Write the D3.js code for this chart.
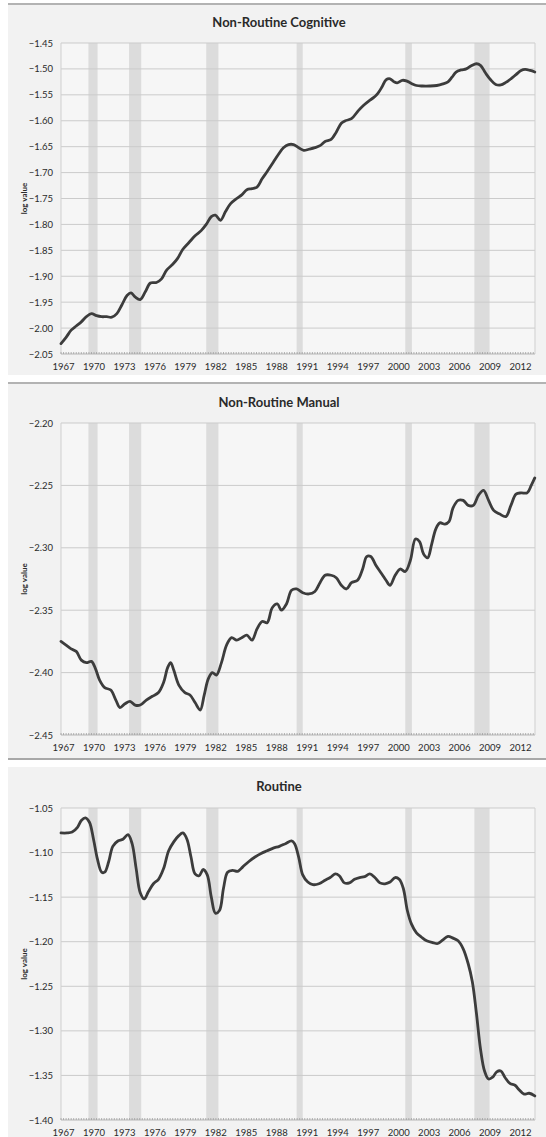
<!DOCTYPE html>
<html>
<head>
<meta charset="utf-8">
<script src="https://cdn.jsdelivr.net/npm/d3@7"></script>
<style>
  html, body { margin: 0; padding: 0; background: #ffffff; }
  svg { display: block; }
  text { font-family: Lato, "Open Sans", "Liberation Sans", sans-serif; fill: #2a2a2a; }
</style>
</head>
<body>
<svg id="chart" width="546" height="1137"></svg>
<script>
// Year labels along each x axis
const yearLabels = [1967, 1970, 1973, 1976, 1979, 1982, 1985, 1988, 1991, 1994, 1997, 2000, 2003, 2006, 2009, 2012];

// Shaded recession periods [start, end] in decimal years
const recessions = [
  [1969.7, 1970.6], [1973.7, 1974.9], [1981.3, 1982.5],
  [1990.2, 1990.8], [2000.9, 2001.55], [2007.7, 2009.2]
];

// y tick labels for each panel
const cognitiveTicks = [-1.45, -1.50, -1.55, -1.60, -1.65, -1.70, -1.75, -1.80, -1.85, -1.90, -1.95, -2.00, -2.05];
const manualTicks = [-2.20, -2.25, -2.30, -2.35, -2.40, -2.45];
const routineTicks = [-1.05, -1.10, -1.15, -1.20, -1.25, -1.30, -1.35, -1.40];

// Non-Routine Cognitive: [year, log value]
const cognitiveSeries = [
  [1967.0,-2.030],[1967.5,-2.018],[1968.0,-2.004],[1968.5,-1.996],[1969.0,-1.988],[1969.5,-1.978],
  [1970.0,-1.972],[1970.5,-1.976],[1971.0,-1.978],[1971.5,-1.978],[1972.0,-1.979],[1972.5,-1.972],
  [1973.0,-1.955],[1973.5,-1.937],[1973.9,-1.932],[1974.3,-1.940],[1974.8,-1.945],[1975.3,-1.930],
  [1975.8,-1.913],[1976.4,-1.912],[1976.9,-1.905],[1977.4,-1.888],[1978.0,-1.877],[1978.5,-1.865],
  [1979.0,-1.848],[1979.6,-1.835],[1980.2,-1.822],[1980.8,-1.812],[1981.3,-1.800],[1981.8,-1.785],
  [1982.2,-1.782],[1982.7,-1.792],[1983.2,-1.775],[1983.7,-1.760],[1984.3,-1.750],[1984.8,-1.743],
  [1985.3,-1.733],[1985.8,-1.731],[1986.3,-1.728],[1986.8,-1.712],[1987.3,-1.698],[1987.9,-1.680],
  [1988.4,-1.665],[1988.9,-1.652],[1989.4,-1.646],[1989.9,-1.646],[1990.4,-1.652],[1990.9,-1.657],
  [1991.4,-1.655],[1992.0,-1.652],[1992.5,-1.648],[1993.0,-1.640],[1993.6,-1.636],[1994.1,-1.622],
  [1994.6,-1.605],[1995.0,-1.600],[1995.6,-1.596],[1996.3,-1.580],[1996.8,-1.570],[1997.3,-1.562],
  [1997.8,-1.555],[1998.2,-1.547],[1998.6,-1.535],[1999.0,-1.521],[1999.4,-1.519],[1999.8,-1.525],
  [2000.1,-1.527],[2000.6,-1.522],[2001.0,-1.523],[2001.5,-1.528],[2002.0,-1.532],[2002.6,-1.533],
  [2003.3,-1.533],[2004.0,-1.532],[2004.6,-1.529],[2005.1,-1.525],[2005.5,-1.516],[2005.9,-1.506],
  [2006.4,-1.502],[2006.9,-1.500],[2007.4,-1.494],[2007.9,-1.490],[2008.3,-1.493],[2008.8,-1.508],
  [2009.3,-1.521],[2009.8,-1.530],[2010.3,-1.531],[2010.8,-1.526],[2011.3,-1.519],[2011.8,-1.511],
  [2012.3,-1.503],[2012.7,-1.501],[2013.2,-1.503],[2013.65,-1.506]
];

// Non-Routine Manual: [year, log value]
const manualSeries = [
  [1967.0,-2.375],[1967.5,-2.378],[1968.0,-2.381],[1968.5,-2.383],[1969.0,-2.390],[1969.5,-2.392],
  [1970.0,-2.391],[1970.4,-2.397],[1970.8,-2.406],[1971.3,-2.412],[1971.9,-2.414],[1972.4,-2.422],
  [1972.8,-2.428],[1973.3,-2.425],[1973.8,-2.423],[1974.3,-2.426],[1974.8,-2.426],[1975.4,-2.422],
  [1976.0,-2.419],[1976.6,-2.416],[1977.1,-2.408],[1977.5,-2.396],[1977.8,-2.392],[1978.1,-2.398],
  [1978.6,-2.410],[1979.2,-2.416],[1979.7,-2.418],[1980.2,-2.424],[1980.7,-2.430],[1981.1,-2.418],
  [1981.5,-2.405],[1981.9,-2.400],[1982.3,-2.402],[1982.8,-2.392],[1983.3,-2.378],[1983.8,-2.372],
  [1984.3,-2.374],[1984.8,-2.372],[1985.3,-2.370],[1985.8,-2.374],[1986.3,-2.365],[1986.8,-2.359],
  [1987.3,-2.360],[1987.8,-2.348],[1988.3,-2.345],[1988.7,-2.350],[1989.2,-2.345],[1989.7,-2.334],
  [1990.2,-2.333],[1990.8,-2.336],[1991.4,-2.337],[1992.0,-2.335],[1992.5,-2.328],[1993.0,-2.322],
  [1993.6,-2.322],[1994.1,-2.324],[1994.6,-2.330],[1995.1,-2.333],[1995.6,-2.328],[1996.2,-2.326],
  [1996.7,-2.317],[1997.1,-2.307],[1997.5,-2.307],[1998.0,-2.314],[1998.5,-2.320],[1999.0,-2.326],
  [1999.4,-2.330],[1999.9,-2.322],[2000.4,-2.317],[2000.9,-2.319],[2001.4,-2.310],[2001.9,-2.293],
  [2002.3,-2.295],[2002.7,-2.305],[2003.1,-2.308],[2003.5,-2.297],[2003.9,-2.285],[2004.3,-2.280],
  [2004.8,-2.281],[2005.2,-2.279],[2005.6,-2.268],[2006.1,-2.262],[2006.6,-2.262],[2007.1,-2.266],
  [2007.6,-2.266],[2008.1,-2.258],[2008.6,-2.254],[2009.1,-2.262],[2009.6,-2.270],[2010.2,-2.273],
  [2010.8,-2.275],[2011.3,-2.266],[2011.8,-2.257],[2012.3,-2.256],[2012.9,-2.256],[2013.3,-2.250],
  [2013.65,-2.244]
];

// Routine: [year, log value]
const routineSeries = [
  [1967.0,-1.078],[1967.6,-1.078],[1968.1,-1.077],[1968.6,-1.072],[1969.0,-1.064],[1969.4,-1.061],
  [1969.8,-1.066],[1970.2,-1.085],[1970.6,-1.108],[1971.0,-1.122],[1971.3,-1.122],[1971.7,-1.110],
  [1972.1,-1.093],[1972.6,-1.087],[1973.1,-1.085],[1973.6,-1.080],[1974.0,-1.090],[1974.4,-1.118],
  [1974.8,-1.145],[1975.2,-1.152],[1975.6,-1.144],[1976.1,-1.135],[1976.6,-1.130],[1977.1,-1.118],
  [1977.6,-1.098],[1978.1,-1.088],[1978.6,-1.081],[1979.0,-1.078],[1979.4,-1.085],[1979.8,-1.105],
  [1980.2,-1.124],[1980.6,-1.126],[1981.0,-1.119],[1981.4,-1.125],[1981.8,-1.150],[1982.2,-1.168],
  [1982.6,-1.165],[1983.0,-1.140],[1983.4,-1.122],[1983.9,-1.120],[1984.4,-1.121],[1984.9,-1.116],
  [1985.5,-1.110],[1986.1,-1.105],[1986.7,-1.101],[1987.3,-1.098],[1987.9,-1.095],[1988.5,-1.093],
  [1989.1,-1.090],[1989.7,-1.087],[1990.0,-1.090],[1990.4,-1.105],[1990.8,-1.125],[1991.3,-1.133],
  [1991.8,-1.136],[1992.4,-1.135],[1993.0,-1.131],[1993.5,-1.128],[1994.0,-1.124],[1994.4,-1.126],
  [1994.9,-1.134],[1995.4,-1.134],[1995.9,-1.130],[1996.4,-1.128],[1996.9,-1.127],[1997.4,-1.124],
  [1997.9,-1.128],[1998.4,-1.134],[1998.9,-1.135],[1999.4,-1.133],[1999.9,-1.128],[2000.3,-1.130],
  [2000.7,-1.140],[2001.1,-1.165],[2001.5,-1.180],[2002.0,-1.190],[2002.5,-1.195],[2003.0,-1.199],
  [2003.6,-1.201],[2004.1,-1.202],[2004.6,-1.198],[2005.1,-1.194],[2005.6,-1.196],[2006.1,-1.199],
  [2006.6,-1.208],[2007.1,-1.225],[2007.5,-1.245],[2007.9,-1.280],[2008.3,-1.320],[2008.7,-1.345],
  [2009.1,-1.354],[2009.5,-1.352],[2009.9,-1.346],[2010.3,-1.345],[2010.7,-1.352],[2011.2,-1.359],
  [2011.7,-1.361],[2012.1,-1.366],[2012.6,-1.371],[2013.1,-1.370],[2013.65,-1.373]
];

// Panel layout
const panels = [
  { title: "Non-Routine Cognitive", series: cognitiveSeries, ticks: cognitiveTicks,
    bgTop: 5, bgBottom: 375, titleY: 24, plotTop: 43, plotBottom: 354, lineTop: 4 },
  { title: "Non-Routine Manual", series: manualSeries, ticks: manualTicks,
    bgTop: 384, bgBottom: 758, titleY: 404, plotTop: 423, plotBottom: 735, lineTop: 383, shadowBottom: 759 },
  { title: "Routine", series: routineSeries, ticks: routineTicks,
    bgTop: 767, bgBottom: 1137, titleY: 788, plotTop: 808, plotBottom: 1120 }
];

const svg = d3.select("#chart");
const plotLeft = 61, plotRight = 535;
const x = d3.scaleLinear().domain([1967, 2013.67]).range([plotLeft, plotRight]);

panels.forEach(p => {
  const g = svg.append("g");
  const y = d3.scaleLinear()
    .domain([d3.min(p.ticks), d3.max(p.ticks)])
    .range([p.plotBottom, p.plotTop]);

  // panel background
  g.append("rect").attr("x", 8).attr("y", p.bgTop)
    .attr("width", 546 - 8).attr("height", p.bgBottom - p.bgTop)
    .attr("fill", "#f2f2f2");
  if (p.lineTop !== undefined) {
    g.append("line").attr("x1", 8).attr("x2", 546)
      .attr("y1", p.lineTop).attr("y2", p.lineTop)
      .attr("stroke", "#9a9a9a").attr("stroke-width", 1.5);
  }
  if (p.shadowBottom !== undefined) {
    g.append("line").attr("x1", 8).attr("x2", 546)
      .attr("y1", p.shadowBottom).attr("y2", p.shadowBottom)
      .attr("stroke", "#a8a8a8").attr("stroke-width", 2);
  }

  // plot area
  g.append("rect").attr("x", plotLeft).attr("y", p.plotTop)
    .attr("width", plotRight - plotLeft).attr("height", p.plotBottom - p.plotTop)
    .attr("fill", "#f6f6f6");

  // recession bands
  g.selectAll("rect.band").data(recessions).join("rect")
    .attr("class", "band")
    .attr("x", d => x(d[0]))
    .attr("width", d => x(d[1]) - x(d[0]))
    .attr("y", p.plotTop)
    .attr("height", p.plotBottom - p.plotTop)
    .attr("fill", "#dcdcdc");

  // horizontal gridlines
  g.selectAll("line.grid").data(p.ticks.slice(0, -1)).join("line")
    .attr("class", "grid")
    .attr("x1", plotLeft).attr("x2", plotRight)
    .attr("y1", d => y(d)).attr("y2", d => y(d))
    .attr("stroke", "#cbcbcb").attr("stroke-width", 1);

  // plot frame sides
  [plotLeft, plotRight].forEach(xx => {
    g.append("line").attr("x1", xx).attr("x2", xx)
      .attr("y1", p.plotTop).attr("y2", p.plotBottom)
      .attr("stroke", "#cfcfcf").attr("stroke-width", 1);
  });

  // bottom axis with quarterly minor ticks
  g.append("line").attr("x1", plotLeft).attr("x2", plotRight)
    .attr("y1", p.plotBottom).attr("y2", p.plotBottom)
    .attr("stroke", "#b5b5b5").attr("stroke-width", 1);
  const quarters = d3.range(1967, 2013.67, 0.25);
  g.selectAll("line.qt").data(quarters).join("line")
    .attr("class", "qt")
    .attr("x1", d => x(d)).attr("x2", d => x(d))
    .attr("y1", p.plotBottom - 2).attr("y2", p.plotBottom)
    .attr("stroke", "#a0a0a0").attr("stroke-width", 0.8);

  // y axis labels
  const yAxis = g.append("g").attr("transform", `translate(${plotLeft},0)`)
    .call(d3.axisLeft(y).tickValues(p.ticks).tickFormat(d3.format(".2f")).tickSize(0).tickPadding(8));
  yAxis.select(".domain").remove();
  yAxis.selectAll("text").style("font-size", "9.5px").attr("fill", "#2a2a2a");

  // x axis labels
  const xAxis = g.append("g").attr("transform", `translate(0,${p.plotBottom})`)
    .call(d3.axisBottom(x).tickValues(yearLabels).tickFormat(d3.format("d")).tickSize(0).tickPadding(9));
  xAxis.select(".domain").remove();
  xAxis.selectAll("text").style("font-size", "9.5px").attr("fill", "#2a2a2a").attr("dx", 2);

  // y axis title
  g.append("text")
    .attr("transform", `translate(27,${(p.plotTop + p.plotBottom) / 2}) rotate(-90)`)
    .attr("text-anchor", "middle")
    .style("font-size", "8px").style("font-weight", "bold")
    .text("log value");

  // panel title
  g.append("text")
    .attr("x", 279).attr("y", p.titleY)
    .attr("text-anchor", "middle").attr("dominant-baseline", "middle")
    .style("font-size", "13px").style("font-weight", "bold")
    .text(p.title);

  // series line
  const line = d3.line()
    .x(d => x(d[0])).y(d => y(d[1]))
    .curve(d3.curveCatmullRom.alpha(0.5));
  g.append("path").datum(p.series)
    .attr("d", line)
    .attr("fill", "none")
    .attr("stroke", "#3c3c3c")
    .attr("stroke-width", 2.8)
    .attr("stroke-linejoin", "round")
    .attr("stroke-linecap", "round");
});
</script>
</body>
</html>
